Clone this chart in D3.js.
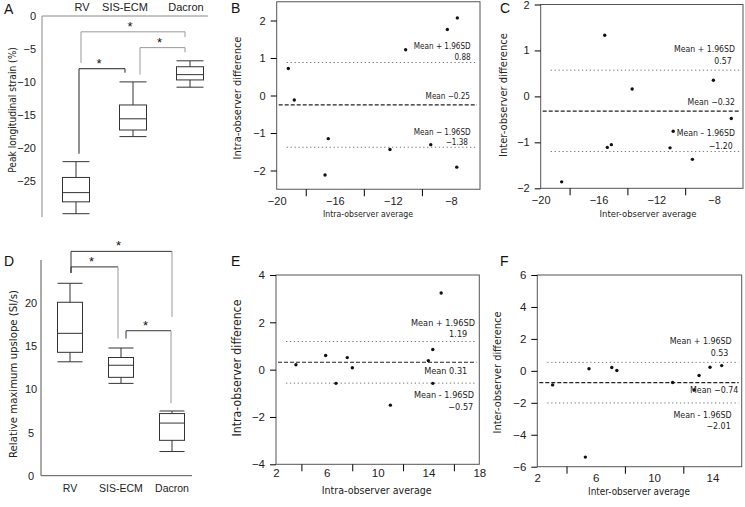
<!DOCTYPE html>
<html>
<head>
<meta charset="utf-8">
<script src="https://d3js.org/d3.v7.min.js"></script>
<style>
  body { margin: 0; background: #fff; }
  svg { display: block; }
  .tick text { font-family: "Liberation Sans", Arial, sans-serif; fill: #222; }
  .ttl, .note { font-family: "Liberation Sans Narrow", "DejaVu Sans Condensed", Lato, sans-serif; fill: #222; }
  .letter { font-family: "Liberation Sans", Arial, sans-serif; font-size: 14px; fill: #111; }
</style>
</head>
<body>
<script>
"use strict";

// box plot groups
var groups = ["RV", "SIS-ECM", "Dacron"];

// A: peak longitudinal strain (%)
var strainLow    = [-30.0, -18.3, -10.8];
var strainQ1     = [-28.2, -17.3, -9.7];
var strainMedian = [-26.8, -15.6, -8.9];
var strainQ3     = [-24.5, -13.5, -7.7];
var strainHigh   = [-22.1, -10.0, -6.8];
var strainTicks  = [0, -5, -10, -15, -20, -25];

// D: relative maximum upslope (SI/s)
var upLow    = [13.2, 10.7, 2.8];
var upQ1     = [14.3, 11.4, 4.1];
var upMedian = [16.5, 12.8, 6.1];
var upQ3     = [20.1, 13.7, 7.2];
var upHigh   = [22.3, 14.8, 7.5];
var upTicks  = [0, 5, 10, 15, 20];

// significance brackets: [from, to, left foot, top, right foot]
var strainBrackets = [[0, 1, -20.9, -8.0, -8.6], [0, 2, -7.1, -2.4, -3.2], [1, 2, -8.9, -4.8, -5.5]];
var upBrackets     = [[0, 1, 23.5, 24.2, 15.9], [0, 2, 23.5, 26.0, 18.4], [1, 2, 15.9, 16.8, 8.4]];

// B: intra-observer, strain
var intraStrainAvg  = [-19.2, -18.79, -16.45, -16.67, -12.2, -11.12, -9.39, -8.25, -7.56, -7.6];
var intraStrainDiff = [0.72, -0.12, -1.15, -2.12, -1.44, 1.22, -1.31, 1.76, 2.07, -1.91];
var intraStrainLim  = [0.88, -0.25, -1.38];
var intraStrainText = ["Mean + 1.96SD", "0.88", "Mean \u22120.25", "Mean \u2212 1.96SD", "\u22121.38"];

// C: inter-observer, strain
var interStrainAvg  = [-15.57, -13.67, -8.05, -6.81, -10.83, -15.39, -15.11, -11.05, -9.5, -18.55];
var interStrainDiff = [1.33, 0.16, 0.35, -0.48, -0.76, -1.11, -1.05, -1.12, -1.37, -1.86];
var interStrainLim  = [0.57, -0.32, -1.20];
var interStrainText = ["Mean + 1.96SD", "0.57", "Mean \u22120.32", "Mean \u2013 1.96SD", "\u22121.20"];

// E: intra-observer, upslope
var intraUpAvg  = [3.57, 5.91, 6.72, 7.61, 8.01, 11.0, 13.99, 14.34, 14.34, 15.0];
var intraUpDiff = [0.21, 0.60, -0.58, 0.51, 0.08, -1.50, 0.38, 0.85, -0.58, 3.24];
var intraUpLim  = [1.19, 0.31, -0.57];
var intraUpText = ["Mean + 1.96SD", "1.19", "Mean 0.31", "Mean - 1.96SD", "\u22120.57"];

// F: inter-observer, upslope
var interUpAvg  = [3.05, 5.54, 7.1, 7.45, 5.29, 11.27, 12.75, 13.08, 13.83, 14.63];
var interUpDiff = [-0.88, 0.13, 0.21, 0.02, -5.4, -0.73, -1.2, -0.29, 0.23, 0.33];
var interUpLim  = [0.53, -0.74, -2.01];
var interUpText = ["Mean + 1.96SD", "0.53", "Mean \u22120.74", "Mean - 1.96SD", "\u22122.01"];

var svg = d3.select("body").append("svg").attr("width", 745).attr("height", 507);
var num = d3.format("");

function fit(t, w) {
  var len = t.node().getComputedTextLength();
  t.attr("font-size", parseFloat(t.attr("font-size")) * w / len);
}

function yTitle(text, cx, cy, w) {
  var t = svg.append("text").attr("class", "ttl").attr("font-size", 11)
    .attr("transform", "translate(" + cx + "," + cy + ") rotate(-90)")
    .attr("text-anchor", "middle").attr("dy", "0.35em").text(text);
  fit(t, w);
}

function xTitle(text, cx, by, w) {
  var t = svg.append("text").attr("class", "ttl").attr("font-size", 11)
    .attr("x", cx).attr("y", by).attr("text-anchor", "middle").text(text);
  fit(t, w);
}

function letter(s, x, y) {
  svg.append("text").attr("class", "letter").attr("x", x).attr("y", y).text(s);
}

function boxes(x, y, lo, q1, med, q3, hi, w) {
  var rows = groups.map(function (c, i) {
    return {c: c, lo: lo[i], q1: q1[i], med: med[i], q3: q3[i], hi: hi[i]};
  });
  var b = svg.append("g").selectAll("g").data(rows).enter().append("g")
    .attr("stroke", "#333").attr("stroke-width", 1).attr("fill", "none");
  b.append("line").attr("x1", d => x(d.c)).attr("x2", d => x(d.c))
    .attr("y1", d => y(d.hi)).attr("y2", d => y(d.lo));
  b.append("rect").attr("x", d => x(d.c) - w / 2).attr("width", w)
    .attr("y", d => Math.min(y(d.q1), y(d.q3)))
    .attr("height", d => Math.abs(y(d.q1) - y(d.q3))).attr("fill", "#fff");
  ["lo", "med", "hi"].forEach(function (k) {
    b.append("line").attr("x1", d => x(d.c) - w / 2).attr("x2", d => x(d.c) + w / 2)
      .attr("y1", d => y(d[k])).attr("y2", d => y(d[k]));
  });
}

function brackets(x, y, list, dl, dr, colL, colR) {
  list.forEach(function (b, i) {
    var x1 = x(groups[b[0]]) + dl[i], x2 = x(groups[b[1]]) + dr[i];
    var g = svg.append("g").attr("fill", "none").attr("stroke-width", 1);
    g.append("path").attr("stroke", colL[i])
      .attr("d", "M" + x1 + "," + y(b[2]) + "V" + y(b[3]) + "H" + x2);
    g.append("path").attr("stroke", colR[i])
      .attr("d", "M" + x2 + "," + y(b[3]) + "V" + y(b[4]));
    svg.append("text").attr("x", (x1 + x2) / 2 - 3).attr("y", y(b[3]) - 1)
      .attr("text-anchor", "middle").attr("font-family", "Liberation Sans, Arial")
      .attr("font-size", 13).attr("fill", "#111").text("*");
  });
}

// ---------- A ----------
(function () {
  var x = d3.scalePoint().domain(groups).range([76, 190]);
  var y = d3.scaleLinear().domain([-30.5, 0]).range([217, 16]);
  svg.append("line").attr("x1", 42).attr("x2", 42).attr("y1", 16).attr("y2", 217).attr("stroke", "#888");
  svg.append("line").attr("x1", 42).attr("x2", 208).attr("y1", 16).attr("y2", 16).attr("stroke", "#888");
  var ay = svg.append("g").attr("transform", "translate(42,0)")
    .call(d3.axisLeft(y).tickValues(strainTicks).tickSize(0).tickPadding(6).tickFormat(num));
  ay.select(".domain").remove();
  ay.selectAll("text").attr("font-size", 11);
  svg.append("g").selectAll("text").data(groups).enter().append("text")
    .attr("x", d => x(d) + [6, -8, -4][groups.indexOf(d)]).attr("y", 11)
    .attr("text-anchor", "middle").attr("font-family", "Liberation Sans, Arial")
    .attr("font-size", 11).attr("fill", "#222").text(d => d);
  brackets(x, y, strainBrackets, [3, 5, 7], [-8, -5, -5], ["#222", "#999", "#999"], ["#222", "#999", "#999"]);
  boxes(x, y, strainLow, strainQ1, strainMedian, strainQ3, strainHigh, 27);
  yTitle("Peak longitudinal strain (%)", 12.7, 110, 126);
  letter("A", 4, 14);
})();

// ---------- D ----------
(function () {
  var x = d3.scalePoint().domain(groups).range([70, 172]);
  var y = d3.scaleLinear().domain([0, 25]).range([475.7, 260]);
  svg.append("line").attr("x1", 41).attr("x2", 41).attr("y1", 260).attr("y2", 475.7).attr("stroke", "#555");
  svg.append("line").attr("x1", 41).attr("x2", 192).attr("y1", 475.7).attr("y2", 475.7).attr("stroke", "#555");
  var ay = svg.append("g").attr("transform", "translate(41,0)")
    .call(d3.axisLeft(y).tickValues(upTicks).tickSize(0).tickPadding(10).tickFormat(num));
  ay.select(".domain").remove();
  ay.selectAll("text").attr("font-size", 11).attr("text-anchor", "middle").attr("x", -10);
  svg.append("g").selectAll("text").data(groups).enter().append("text")
    .attr("x", d => x(d)).attr("y", 492)
    .attr("text-anchor", "middle").attr("font-family", "Liberation Sans, Arial")
    .attr("font-size", 10.5).attr("fill", "#222").text(d => d);
  brackets(x, y, upBrackets, [1, 1, 5], [-3, 0, -1], ["#333", "#333", "#333"], ["#999", "#999", "#999"]);
  boxes(x, y, upLow, upQ1, upMedian, upQ3, upHigh, 25);
  yTitle("Relative maximum upslope (SI/s)", 12.7, 374, 168);
  letter("D", 4, 266);
})();

// ---------- Bland-Altman panels ----------
function blandAltman(p) {
  var x = d3.scaleLinear().domain(p.xd).range(p.xr);
  var y = d3.scaleLinear().domain(p.yd).range(p.yr);
  var fs = p.fs;
  svg.append("rect").attr("x", p.xr[0]).attr("y", p.yr[1])
    .attr("width", p.xr[1] - p.xr[0]).attr("height", p.yr[0] - p.yr[1])
    .attr("fill", "none").attr("stroke", "#555");
  var ay = svg.append("g").attr("transform", "translate(" + p.xr[0] + ",0)")
    .call(d3.axisLeft(y).tickValues(p.yt).tickSize(6).tickPadding(5).tickFormat(num));
  ay.select(".domain").remove();
  ay.selectAll("text").attr("font-size", fs);
  var mx = svg.append("g").attr("transform", "translate(0," + p.yr[0] + ")")
    .call(d3.axisBottom(x).tickValues(p.xminor).tickSize(7).tickFormat(""));
  mx.select(".domain").remove();
  var lx = svg.append("g").attr("transform", "translate(0," + p.yr[0] + ")")
    .call(d3.axisBottom(x).tickValues(p.xt).tickSize(0).tickPadding(p.xpad).tickFormat(num));
  lx.select(".domain").remove();
  lx.selectAll("text").attr("font-size", fs);

  var lines = svg.append("g").attr("fill", "none");
  p.lim.forEach(function (v, i) {
    lines.append("line")
      .attr("x1", p.xr[0] + (i === 1 ? 2 : 10)).attr("x2", p.xr[1] - 3)
      .attr("y1", y(v)).attr("y2", y(v))
      .attr("stroke", i === 1 ? "#222" : "#777")
      .attr("stroke-width", i === 1 ? 1.1 : 1)
      .attr("stroke-dasharray", i === 1 ? "4,2" : "1.3,2.6");
  });

  svg.append("g").selectAll("circle").data(p.avg).enter().append("circle")
    .attr("cx", d => x(d)).attr("cy", (d, i) => y(p.diff[i])).attr("r", 1.7).attr("fill", "#111");

  var first = null;
  p.text.forEach(function (s, i) {
    var t = svg.append("text").attr("class", "note").attr("font-size", 10)
      .attr("x", p.notes[i][0]).attr("y", p.notes[i][1]).attr("text-anchor", "end").text(s);
    if (i === 0) { fit(t, p.noteW); first = t.attr("font-size"); } else t.attr("font-size", first);
  });

  yTitle(p.yl, p.ylp[0], p.ylp[1], p.ylp[2]);
  xTitle(p.xl, p.xlp[0], p.xlp[1], p.xlp[2]);
  letter(p.letter, p.lp[0], p.lp[1]);
}

blandAltman({
  xd: [-20, -6], xr: [276.7, 480], yd: [-2.5, 2.5], yr: [189.25, 1.75],
  yt: [2, 1, 0, -1, -2], xt: [-20, -16, -12, -8], xminor: [-18, -14, -10], xpad: 8, fs: 11,
  avg: intraStrainAvg, diff: intraStrainDiff, lim: intraStrainLim, text: intraStrainText,
  notes: [[470.7, 48.5], [470.7, 60], [470, 98.5], [470.7, 134.5], [468, 145]], noteW: 57,
  yl: "Intra-observer difference", ylp: [236.7, 98, 123],
  xl: "Intra-observer average", xlp: [368, 217, 90],
  letter: "B", lp: [231, 13]
});

blandAltman({
  xd: [-20, -6], xr: [540.7, 743], yd: [-2, 2], yr: [188.3, 4.5],
  yt: [2, 1, 0, -1, -2], xt: [-20, -16, -12, -8], xminor: [-18, -14, -10], xpad: 8, fs: 11,
  avg: interStrainAvg, diff: interStrainDiff, lim: interStrainLim, text: interStrainText,
  notes: [[735, 52], [731.7, 63.5], [735, 105], [735, 136], [732.7, 148.5]], noteW: 61,
  yl: "Inter-observer difference", ylp: [503, 95, 124],
  xl: "Inter-observer average", xlp: [648, 217, 97],
  letter: "C", lp: [500, 13]
});

blandAltman({
  xd: [2, 18], xr: [276, 479.3], yd: [-4, 4], yr: [464.3, 275],
  yt: [4, 2, 0, -2, -4], xt: [2, 6, 10, 14, 18], xminor: [4, 8, 12, 16], xpad: 5, fs: 11.5,
  avg: intraUpAvg, diff: intraUpDiff, lim: intraUpLim, text: intraUpText,
  notes: [[475, 325.5], [467.3, 337], [467.3, 373.5], [474, 397.5], [473.3, 410]], noteW: 64,
  yl: "Intra-observer difference", ylp: [237, 368, 137],
  xl: "Intra-observer average", xlp: [376.7, 493.5, 110],
  letter: "E", lp: [231, 266]
});

blandAltman({
  xd: [2, 16], xr: [537.3, 741.7], yd: [-6, 6], yr: [466.7, 275],
  yt: [6, 4, 2, 0, -2, -4, -6], xt: [2, 6, 10, 14], xminor: [4, 8, 12], xpad: 7, fs: 11.5,
  avg: interUpAvg, diff: interUpDiff, lim: interUpLim, text: interUpText,
  notes: [[731.7, 343.5], [728.3, 356], [738.3, 393], [731.7, 417.5], [730.7, 428.5]], noteW: 62,
  yl: "Inter-observer difference", ylp: [497, 372.5, 122],
  xl: "Inter-observer average", xlp: [639, 495, 102],
  letter: "F", lp: [500, 266]
});
</script>
</body>
</html>
